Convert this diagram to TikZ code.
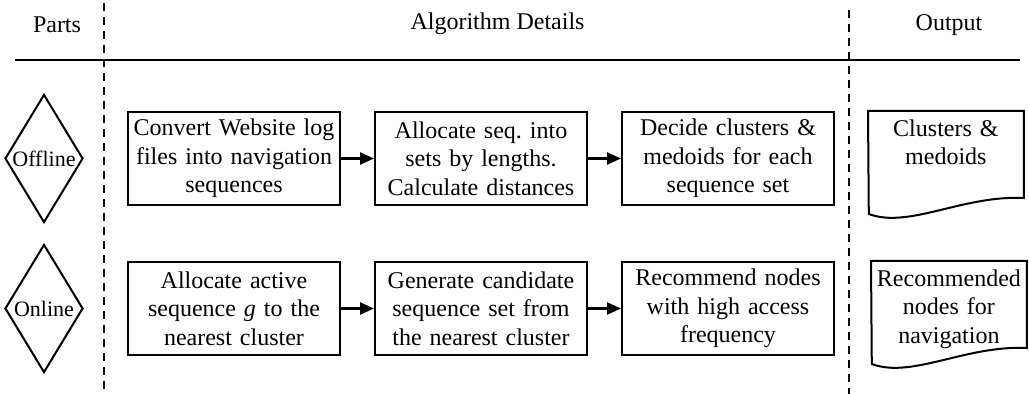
\documentclass[tikz,border=0pt]{standalone}
\usepackage{fontspec}
\setmainfont{Liberation Serif}
\usetikzlibrary{
  arrows.meta,
  positioning,
  shapes.geometric
}
\tikzset{
  every node/.style={font=\fontsize{12pt}{14.25pt}\selectfont},
  stepbox/.style={draw, line width=1pt,
    minimum width=106pt, minimum height=46.5pt,
    text width=102pt, inner sep=1pt, align=center},
  partdiam/.style={draw, diamond, line width=1pt,
    minimum width=39pt, minimum height=64pt, inner sep=0pt},
  partlabel/.style={font=\fontsize{11pt}{13pt}\selectfont},
  docbox/.style={minimum width=77.5pt, text width=75pt,
    inner xsep=1.25pt, inner ysep=4pt, align=center},
  arr/.style={-{Triangle[length=7pt, width=6pt]}, line width=1.2pt},
  sepline/.style={line width=1.3pt, dash pattern=on 4pt off 3pt},
}

\begin{document}
\begin{tikzpicture}[
  x=0.5pt, y=-0.5pt,
  node distance=27.5pt and 16.5pt
]
  \useasboundingbox (0,0) rectangle (1029,394);

  % Column heads
  \node (hparts) at (57,25) {Parts};
  \node (halgo) at (497.5,24) {Algorithm Details};
  \node (hout) at (949,25) {Output};

  % Separators
  \draw[line width=1.3pt] (15,60) -- (1020,60);
  \draw[sepline] (104,3) -- (104,394);
  \draw[sepline] (849,10) -- (849,394);

  % Offline row
  \node[stepbox] (off1) at (234,158.5) {Convert Website log\\files into navigation\\sequences};
  \node[stepbox, right=of off1] (off2) {Allocate seq.\ into\\sets by lengths.\\Calculate distances};
  \node[stepbox, right=of off2] (off3) {Decide clusters \&\\medoids for each\\sequence set};
  \node[docbox, below right=0pt and 16.5pt of off3.north east] (outA) {Clusters \&\\medoids};
  \node[partdiam, left=21.5pt of off1,
        label={[partlabel]center:Offline}] (doff) {};

  % Online row
  \node[stepbox, below=of off1] (on1) {Allocate active\\sequence \textit{g} to the\\nearest cluster};
  \node[stepbox, right=of on1] (on2) {Generate candidate\\sequence set from\\the nearest cluster};
  \node[stepbox, right=of on2] (on3) {Recommend nodes\\with high access\\frequency};
  \node[docbox, below right=0pt and 18pt of on3.north east] (outB) {Recommended\\nodes for\\navigation};
  \node[partdiam, left=21.5pt of on1,
        label={[partlabel]center:Online}] (don) {};

  % Document outlines
  \foreach \n in {outA, outB} {
    \draw[line width=1pt] (\n.north west) -- (\n.north east) -- ++(0,87)
      .. controls +(-61,-3) and +(40,15) .. ++(-155,16) -- cycle;
  }

  % Arrows
  \foreach \a/\b in {off1/off2, off2/off3, on1/on2, on2/on3} {
    \draw[arr] (\a) -- (\b);
  }
\end{tikzpicture}
\end{document}
